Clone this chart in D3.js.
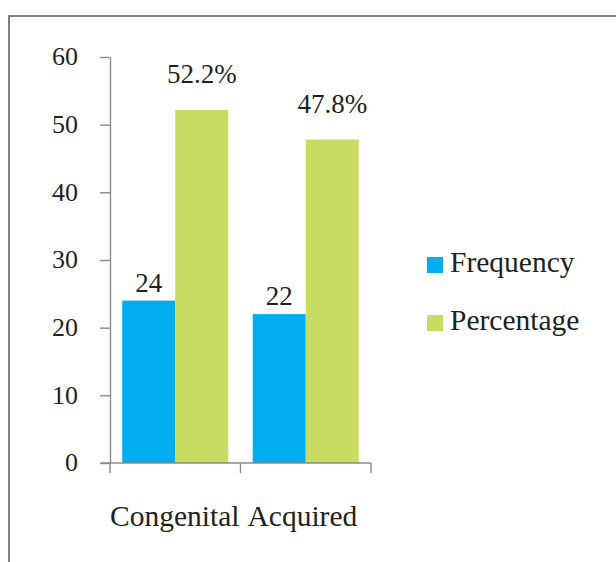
<!DOCTYPE html>
<html>
<head>
<meta charset="utf-8">
<script src="https://cdn.jsdelivr.net/npm/d3@7"></script>
<style>
  html, body { margin: 0; padding: 0; background: #fff; }
  svg { display: block; }
  text { font-family: "Liberation Serif", "Times New Roman", serif; fill: #231f20; }
</style>
</head>
<body>
<svg id="chart" width="616" height="562"></svg>
<script>
// Data
const categories = ["Congenital", "Acquired"];
const seriesNames = ["Frequency", "Percentage"];
const frequency = [24, 22];
const percentage = [52.2, 47.8];
const percentageLabels = ["52.2%", "47.8%"];
const frequencyLabels = ["24", "22"];
const yTicks = [0, 10, 20, 30, 40, 50, 60];
const colors = ["#00aeef", "#c9dc62"];

const svg = d3.select("#chart");

// Frame
svg.append("path")
  .attr("d", "M9,570 L9,16 L630,16")
  .attr("fill", "none")
  .attr("stroke", "#808080")
  .attr("stroke-width", 2);

// Scales
const y = d3.scaleLinear().domain([0, 60]).range([463, 57]);
const x0 = d3.scaleBand().domain(categories).range([110, 371]).padding(0);
const x1 = d3.scaleBand().domain(seriesNames).range([0, x0.bandwidth()]).paddingInner(0).paddingOuter(0.23);
const color = d3.scaleOrdinal().domain(seriesNames).range(colors);

const axisColor = "#8a8a8a";

// Y axis
const yAxis = svg.append("g")
  .attr("transform", "translate(110,0)")
  .call(d3.axisLeft(y).tickValues(yTicks).tickSize(10).tickSizeOuter(0).tickPadding(22));
yAxis.select(".domain").attr("stroke", axisColor).attr("stroke-width", 1.4);
yAxis.selectAll(".tick line").attr("stroke", axisColor).attr("stroke-width", 1.4);
yAxis.selectAll(".tick text")
  .attr("font-family", "Liberation Serif")
  .attr("font-size", 26)
  .attr("fill", "#231f20")
  .attr("dy", "0.3em");

// Bars
const rows = categories.map((c, i) => ({ cat: c, values: [
  { key: "Frequency", value: frequency[i], label: frequencyLabels[i], offset: 9 },
  { key: "Percentage", value: percentage[i], label: percentageLabels[i], offset: 27 }
]}));

const groups = svg.append("g").selectAll("g")
  .data(rows).join("g")
  .attr("transform", d => `translate(${x0(d.cat)},0)`);

groups.selectAll("rect")
  .data(d => d.values).join("rect")
  .attr("x", d => x1(d.key))
  .attr("y", d => y(d.value))
  .attr("width", x1.bandwidth())
  .attr("height", d => y(0) - y(d.value))
  .attr("fill", d => color(d.key));

groups.selectAll("text.val")
  .data(d => d.values).join("text")
  .attr("class", "val")
  .attr("x", d => x1(d.key) + x1.bandwidth() / 2)
  .attr("y", d => y(d.value) - d.offset)
  .attr("text-anchor", "middle")
  .attr("font-size", 27)
  .text(d => d.label);

// X axis (line with ticks at category boundaries)
const xAxis = svg.append("g");
xAxis.append("line")
  .attr("x1", 101).attr("x2", x0.range()[1])
  .attr("y1", y(0)).attr("y2", y(0))
  .attr("stroke", axisColor).attr("stroke-width", 1.4);
const edges = categories.map(c => x0(c)).concat([x0(categories[categories.length - 1]) + x0.bandwidth()]);
xAxis.selectAll("line.tick")
  .data(edges).join("line")
  .attr("class", "tick")
  .attr("x1", d => d).attr("x2", d => d)
  .attr("y1", y(0)).attr("y2", y(0) + 10)
  .attr("stroke", axisColor).attr("stroke-width", 1.4);

// Category labels sit on either side of the middle boundary
const mid = x0(categories[1]);
svg.append("text")
  .attr("x", mid - 1).attr("y", 526)
  .attr("text-anchor", "end")
  .attr("font-size", 29.5)
  .text(categories[0]);
svg.append("text")
  .attr("x", mid + 7).attr("y", 526)
  .attr("text-anchor", "start")
  .attr("font-size", 29.5)
  .text(categories[1]);

// Legend
const legend = svg.append("g").selectAll("g")
  .data(seriesNames).join("g")
  .attr("transform", (d, i) => `translate(427,${257 + i * 58})`);
legend.append("rect")
  .attr("width", 16).attr("height", 16)
  .attr("fill", d => color(d));
legend.append("text")
  .attr("x", 23).attr("y", 15)
  .attr("font-size", 29.5)
  .text(d => d);
</script>
</body>
</html>
